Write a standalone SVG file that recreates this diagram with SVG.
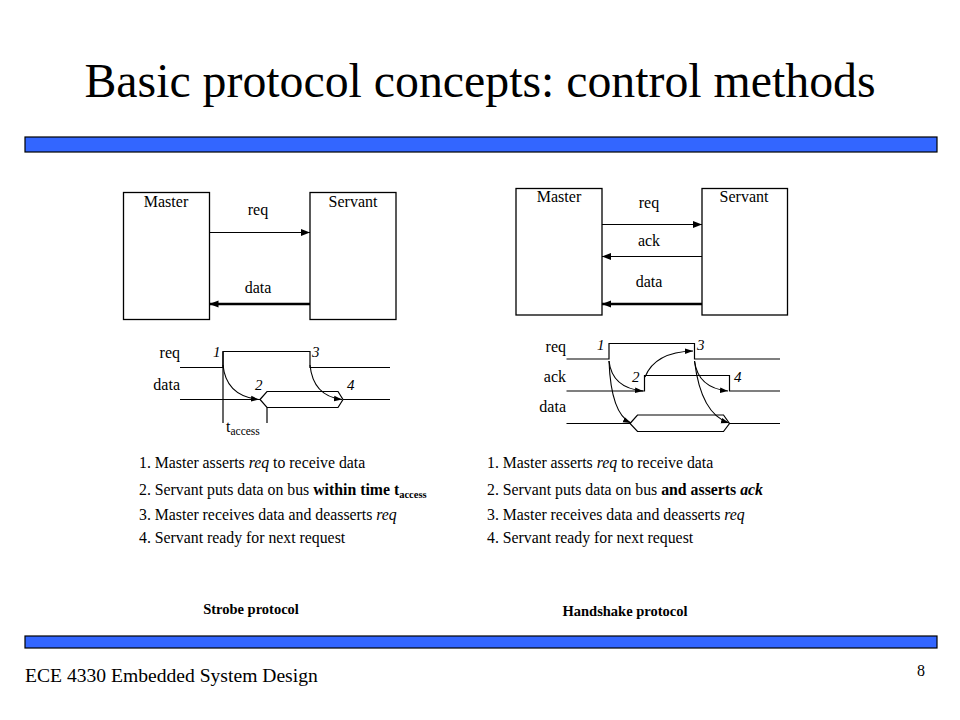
<svg xmlns="http://www.w3.org/2000/svg" width="960" height="720" viewBox="0 0 960 720">
<defs>
<marker id="ah" viewBox="0 0 10 10" refX="10" refY="5" markerWidth="9" markerHeight="9" markerUnits="userSpaceOnUse" orient="auto"><path d="M0,1 L10,5 L0,9 z" fill="#000"/></marker>
<marker id="ahs" viewBox="0 0 10 10" refX="10" refY="5" markerWidth="8" markerHeight="8" markerUnits="userSpaceOnUse" orient="auto"><path d="M0,1.5 L10,5 L0,8.5 z" fill="#000"/></marker>
</defs>
<style>
text{font-family:"Liberation Serif","Times New Roman",serif;fill:#000}
.box{fill:#fff;stroke:#000;stroke-width:1.3}
.lbl{font-size:16px;text-anchor:middle}
.sig{font-size:16px;text-anchor:end}
.num{font-size:15px;font-style:italic}
.w{fill:none;stroke:#000;stroke-width:1.2}
.cv{fill:none;stroke:#000;stroke-width:1.1;marker-end:url(#ahs)}
.list{font-size:15.8px}
.cap{font-size:14.5px;font-weight:bold;text-anchor:middle}
.bar{fill:#3366FF;stroke:#000;stroke-width:1.2}
</style>
<rect width="960" height="720" fill="#fff"/>
<text x="480" y="97" font-size="47.8" text-anchor="middle">Basic protocol concepts: control methods</text>
<rect class="bar" x="25" y="137" width="912" height="15"/>
<rect class="bar" x="25" y="636" width="912" height="12"/>

<g id="strobe-master"><rect class="box" x="123.5" y="192.5" width="86" height="127"/><text class="lbl" x="166" y="207">Master</text></g>
<g id="strobe-servant"><rect class="box" x="310" y="192.5" width="86" height="127"/><text class="lbl" x="353" y="207">Servant</text></g>
<g id="hs-master"><rect class="box" x="516" y="188.5" width="86" height="126.5"/><text class="lbl" x="559" y="202">Master</text></g>
<g id="hs-servant"><rect class="box" x="702" y="188.5" width="85.5" height="126.5"/><text class="lbl" x="744" y="202">Servant</text></g>

<g id="connectors">
<line x1="209.5" y1="232.5" x2="310" y2="232.5" stroke="#000" stroke-width="1.2" marker-end="url(#ah)"/>
<line x1="310" y1="304" x2="209.5" y2="304" stroke="#000" stroke-width="2.6" marker-end="url(#ah)"/>
<line x1="602" y1="224.5" x2="702" y2="224.5" stroke="#000" stroke-width="1.2" marker-end="url(#ah)"/>
<line x1="702" y1="256.5" x2="602" y2="256.5" stroke="#000" stroke-width="1.2" marker-end="url(#ah)"/>
<line x1="702" y1="304" x2="602" y2="304" stroke="#000" stroke-width="2.6" marker-end="url(#ah)"/>
</g>
<g id="conn-labels">
<text class="lbl" x="258" y="215">req</text>
<text class="lbl" x="258" y="293">data</text>
<text class="lbl" x="649" y="208">req</text>
<text class="lbl" x="649" y="246">ack</text>
<text class="lbl" x="649" y="287">data</text>
</g>

<g id="strobe-timing">
<text class="sig" x="180" y="358">req</text>
<text class="sig" x="180" y="390">data</text>
<path class="w" d="M180,367.5 H223 V351.5 H310 V367.5 H390"/>
<path class="w" d="M180,399.5 H260 M343,399.5 H390"/>
<path class="w" d="M260,399.5 L267,391.5 H338 L343,399.5 L338,407.5 H267 Z"/>
<line x1="223" y1="351.5" x2="223" y2="423" stroke="#000" stroke-width="1.2"/>
<line x1="267" y1="407.5" x2="267" y2="423" stroke="#000" stroke-width="1.2"/>
<path class="cv" d="M223,365 Q226,396 259,399.5"/>
<path class="cv" d="M310,365 Q313,396 342,399.5"/>
<text class="num" x="213" y="357">1</text>
<text class="num" x="312" y="357">3</text>
<text class="num" x="255" y="390">2</text>
<text class="num" x="347" y="390">4</text>
<text x="226" y="432" font-size="16">t<tspan font-size="11.5" dy="3">access</tspan></text>
</g>

<g id="hs-timing">
<text class="sig" x="566" y="351.5">req</text>
<text class="sig" x="566" y="381.5">ack</text>
<text class="sig" x="566" y="412">data</text>
<path class="w" d="M566.5,359 H609 V343.5 H694.5 V359 H780"/>
<path class="w" d="M566.5,391 H644.5 V375.5 H729.5 V391 H780"/>
<path class="w" d="M566.5,423.5 H630 M729.5,423.5 H780"/>
<path class="w" d="M630,423.5 L637.5,415 H723.5 L729.5,423.5 L723.5,431.5 H637.5 Z"/>
<path class="cv" d="M609,361 Q612,388 643,391"/>
<path class="cv" d="M645,377 Q655,352 693,351"/>
<path class="cv" d="M694.5,361 Q698,388 728,391"/>
<path class="cv" d="M609,361 Q611,414 631,423"/>
<path class="cv" d="M694.5,361 Q701,414 729,423"/>
<text class="num" x="597" y="350">1</text>
<text class="num" x="697" y="350">3</text>
<text class="num" x="632" y="381.5">2</text>
<text class="num" x="734" y="381.5">4</text>
</g>

<g id="strobe-list">
<text class="list" x="139" y="468">1. Master asserts <tspan font-style="italic">req</tspan> to receive  data</text>
<text class="list" x="139" y="495">2. Servant puts data on bus <tspan font-weight="bold">within time t<tspan font-size="10.5" dy="3">access</tspan></tspan></text>
<text class="list" x="139" y="520">3. Master receives  data and deasserts <tspan font-style="italic">req</tspan></text>
<text class="list" x="139" y="543">4. Servant ready for next request</text>
</g>
<g id="hs-list">
<text class="list" x="487" y="468">1. Master asserts <tspan font-style="italic">req</tspan> to receive  data</text>
<text class="list" x="487" y="495">2. Servant puts data on bus <tspan font-weight="bold">and asserts <tspan font-style="italic">ack</tspan></tspan></text>
<text class="list" x="487" y="520">3. Master receives  data and deasserts <tspan font-style="italic">req</tspan></text>
<text class="list" x="487" y="543">4. Servant ready for next request</text>
</g>

<text class="cap" x="251" y="614">Strobe protocol</text>
<text class="cap" x="625" y="616">Handshake protocol</text>
<text x="25" y="682" font-size="19.6">ECE 4330 Embedded System Design</text>
<text x="925" y="676" font-size="16" text-anchor="end">8</text>
</svg>
